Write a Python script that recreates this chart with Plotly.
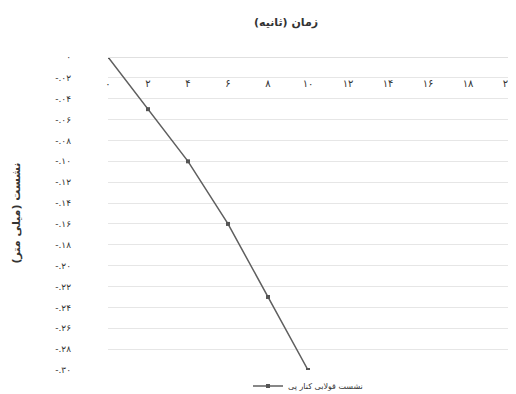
import plotly.graph_objects as go

time_x = [0, 2, 4, 6, 8, 10]
settlement_y = [0, -0.05, -0.10, -0.16, -0.23, -0.30]

x_tickvals = [0, 2, 4, 6, 8, 10, 12, 14, 16, 18, 20]
x_ticktext = ["۰", "۲", "۴", "۶", "۸", "۱۰", "۱۲", "۱۴", "۱۶", "۱۸", "۲۰"]
y_tickvals = [0, -0.02, -0.04, -0.06, -0.08, -0.10, -0.12, -0.14, -0.16,
              -0.18, -0.20, -0.22, -0.24, -0.26, -0.28, -0.30]
y_ticktext = ["۰", "-.۰۲", "-.۰۴", "-.۰۶", "-.۰۸", "-.۱۰", "-.۱۲", "-.۱۴", "-.۱۶",
              "-.۱۸", "-.۲۰", "-.۲۲", "-.۲۴", "-.۲۶", "-.۲۸", "-.۳۰"]

series_name = "نشست قولابی کنار پی"
x_title = "<b>زمان (ثانیه)</b>"
y_title = "<b>نشست (میلی متر)</b>"

FONT = "DejaVu Sans"

fig = go.Figure()
fig.add_trace(go.Scatter(
    x=time_x, y=settlement_y, mode="lines+markers", name=series_name,
    line=dict(color="#5f5f5f", width=1.5),
    marker=dict(symbol="square", size=4, color="#555555"),
))

# page body has an 8px margin, so the figure is sized/offset to compensate
fig.update_layout(
    width=508, height=386,
    margin=dict(l=100, r=8, t=49, b=24, autoexpand=False),
    paper_bgcolor="white", plot_bgcolor="white",
    font=dict(family=FONT, size=9, color="#333333"),
    showlegend=True,
    legend=dict(orientation="h", x=0.5, xanchor="center", y=-0.005, yanchor="top",
                font=dict(size=8, color="#333333"), bgcolor="rgba(0,0,0,0)"),
    xaxis=dict(
        range=[0, 20], anchor="free", position=1.0, side="bottom",
        tickvals=x_tickvals, ticktext=x_ticktext, ticks="", ticklabelstandoff=17,
        showgrid=False, zeroline=False, showline=True, linecolor="#e0e0e0", linewidth=1,
        automargin=False, tickfont=dict(size=10, color="#333333"),
    ),
    yaxis=dict(
        range=[-0.30, 0], tickvals=y_tickvals, ticktext=y_ticktext,
        ticks="", ticklabelstandoff=36, automargin=False,
        showgrid=True, gridcolor="#e6e6e6", gridwidth=1,
        zeroline=False, showline=False,
        tickfont=dict(size=9, color="#333333"),
    ),
    annotations=[
        dict(text=x_title, xref="paper", yref="paper", x=0.445, y=1.11,
             xanchor="center", yanchor="middle", showarrow=False,
             font=dict(size=11, color="#333333")),
        dict(text=y_title, xref="paper", yref="paper", x=-0.23, y=0.5,
             xanchor="center", yanchor="middle", showarrow=False, textangle=-90,
             font=dict(size=11, color="#333333")),
    ],
)

fig.write_html("out.html")
